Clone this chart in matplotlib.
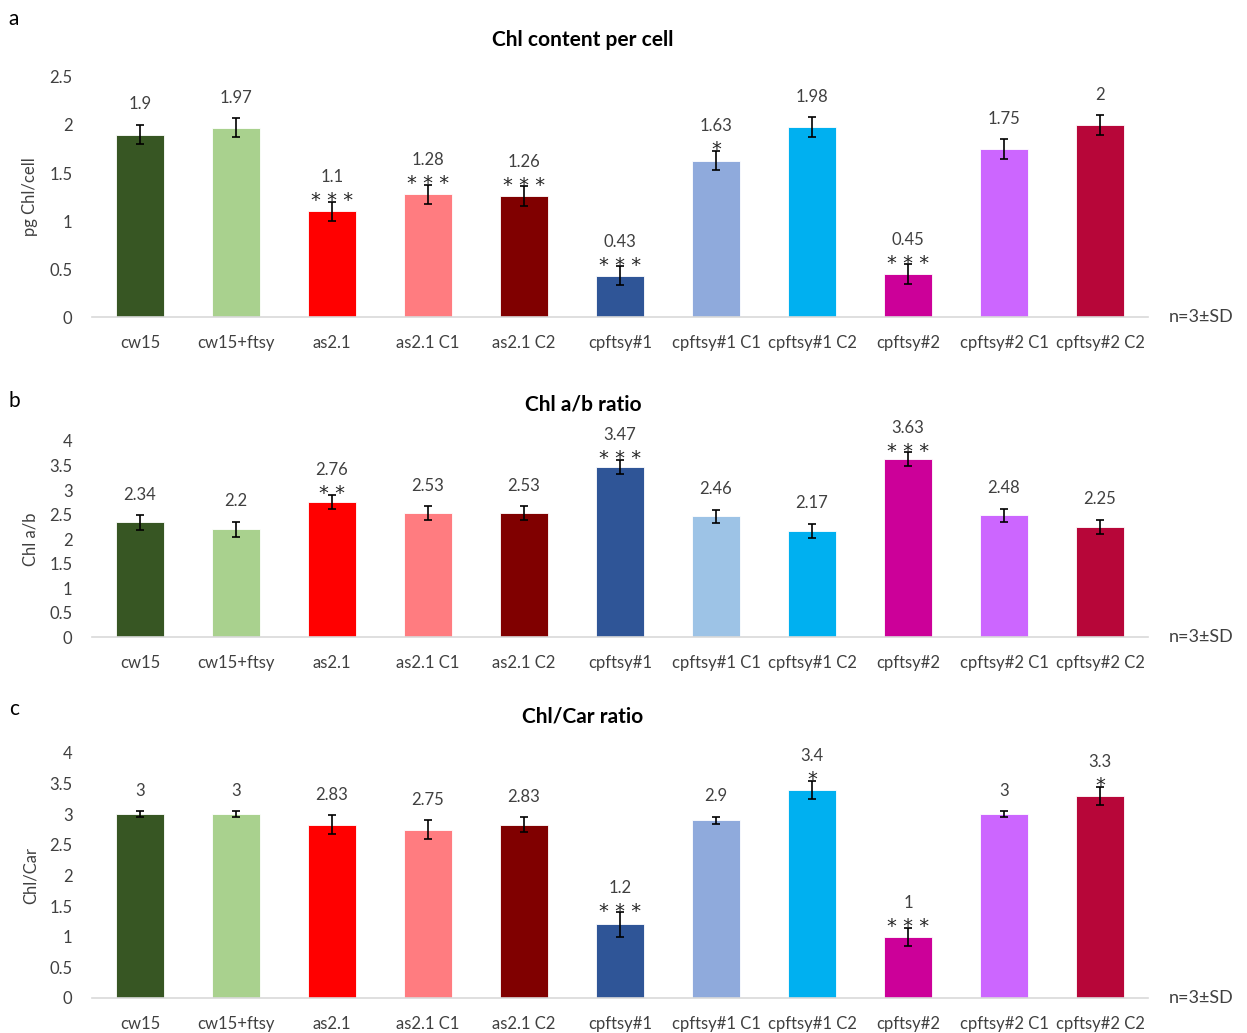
import matplotlib.pyplot as plt
import numpy as np

plt.rcParams['font.family'] = ['Lato', 'DejaVu Sans']

strains = ["cw15", "cw15+ftsy", "as2.1", "as2.1 C1", "as2.1 C2", "cpftsy#1",
           "cpftsy#1 C1", "cpftsy#1 C2", "cpftsy#2", "cpftsy#2 C1", "cpftsy#2 C2"]

# a: chlorophyll per cell
chl_cell = [1.9, 1.97, 1.1, 1.28, 1.26, 0.43, 1.63, 1.98, 0.45, 1.75, 2]
chl_cell_sd = [0.1, 0.1, 0.1, 0.1, 0.1, 0.1, 0.1, 0.1, 0.1, 0.1, 0.1]
chl_cell_sig = ["", "", "***", "***", "***", "***", "*", "", "***", "", ""]

# b: Chl a/b
chl_ab = [2.34, 2.2, 2.76, 2.53, 2.53, 3.47, 2.46, 2.17, 3.63, 2.48, 2.25]
chl_ab_sd = [0.15, 0.15, 0.14, 0.14, 0.14, 0.14, 0.14, 0.14, 0.14, 0.14, 0.14]
chl_ab_sig = ["", "", "**", "", "", "***", "", "", "***", "", ""]

# c: Chl/Car
chl_car = [3, 3, 2.83, 2.75, 2.83, 1.2, 2.9, 3.4, 1, 3, 3.3]
chl_car_sd = [0.05, 0.05, 0.15, 0.15, 0.12, 0.2, 0.06, 0.15, 0.15, 0.05, 0.15]
chl_car_sig = ["", "", "", "", "", "***", "", "*", "***", "", "*"]

colors_ac = ["#375623", "#A9D18E", "#FF0000", "#FF7C80", "#800000", "#2F5597",
             "#8FAADC", "#00B0F0", "#CC0099", "#CC66FF", "#B70639"]
colors_b = ["#375623", "#A9D18E", "#FF0000", "#FF7C80", "#800000", "#2F5597",
            "#9DC3E6", "#00B0F0", "#CC0099", "#CC66FF", "#B70639"]

TXT = "#404040"


def fmt(v):
    return f"{v:g}"


def draw_panel(ax, vals, sds, sig, colors, ymax, title, ylabel):
    x = np.arange(len(strains))
    ax.bar(x, vals, width=0.5, color=colors, edgecolor="white", linewidth=0.6, zorder=2)
    ax.errorbar(x, vals, yerr=sds, fmt="none", ecolor="black", elinewidth=1.2,
                capsize=3, capthick=1.2, zorder=3)
    for xi, v, s, star in zip(x, vals, sds, sig):
        top = v + s
        if star:
            # spaced asterisks sitting on the error cap
            ax.annotate(" ".join(star), (xi, top), xytext=(0, -6),
                        textcoords="offset points", ha="center", va="bottom",
                        fontsize=14, color="#262626", family="DejaVu Sans",
                        annotation_clip=False)
            ax.annotate(fmt(v), (xi, top), xytext=(0, 12), textcoords="offset points",
                        ha="center", va="bottom", fontsize=12, color=TXT,
                        annotation_clip=False)
        else:
            ax.annotate(fmt(v), (xi, top), xytext=(0, 9), textcoords="offset points",
                        ha="center", va="bottom", fontsize=12, color=TXT,
                        annotation_clip=False)

    ax.set_xlim(-0.5, len(strains) - 0.5)
    ax.set_ylim(0, ymax)
    ax.set_yticks(np.arange(0, ymax + 0.01, 0.5))
    ax.set_yticklabels([fmt(t) for t in np.arange(0, ymax + 0.01, 0.5)])
    ax.set_xticks(x)
    ax.set_xticklabels(strains)
    ax.tick_params(axis="both", length=0, labelsize=12, colors=TXT)
    ax.tick_params(axis="x", pad=13)
    ax.tick_params(axis="y", pad=14)
    for side in ["top", "right", "left"]:
        ax.spines[side].set_visible(False)
    ax.spines["bottom"].set_color("#D9D9D9")
    ax.spines["bottom"].set_linewidth(1.2)
    ax.set_title(title, fontsize=15, fontweight="bold", color="black", pad=22, x=0.465)
    ax.set_ylabel(ylabel, fontsize=12, color=TXT, labelpad=8)
    ax.text(1.02, 0, "n=3\u00b1SD", transform=ax.transAxes, fontsize=13,
            color=TXT, va="center", ha="left")


fig = plt.figure(figsize=(12.47, 10.33), dpi=100)
left, width = 0.0738, 0.8468
ax_a = fig.add_axes([left, 0.693, width, 0.2325])
ax_b = fig.add_axes([left, 0.3833, width, 0.1898])
ax_c = fig.add_axes([left, 0.0339, width, 0.2372])

draw_panel(ax_a, chl_cell, chl_cell_sd, chl_cell_sig, colors_ac, 2.5,
           "Chl content per cell", "pg Chl/cell")
draw_panel(ax_b, chl_ab, chl_ab_sd, chl_ab_sig, colors_b, 4,
           "Chl a/b ratio", "Chl a/b")
draw_panel(ax_c, chl_car, chl_car_sd, chl_car_sig, colors_ac, 4,
           "Chl/Car ratio", "Chl/Car")

for lab, yy in [("a", 0.982), ("b", 0.612), ("c", 0.314)]:
    fig.text(0.007, yy, lab, fontsize=15, color="black", va="center")

fig.savefig("out.png", dpi=100)
